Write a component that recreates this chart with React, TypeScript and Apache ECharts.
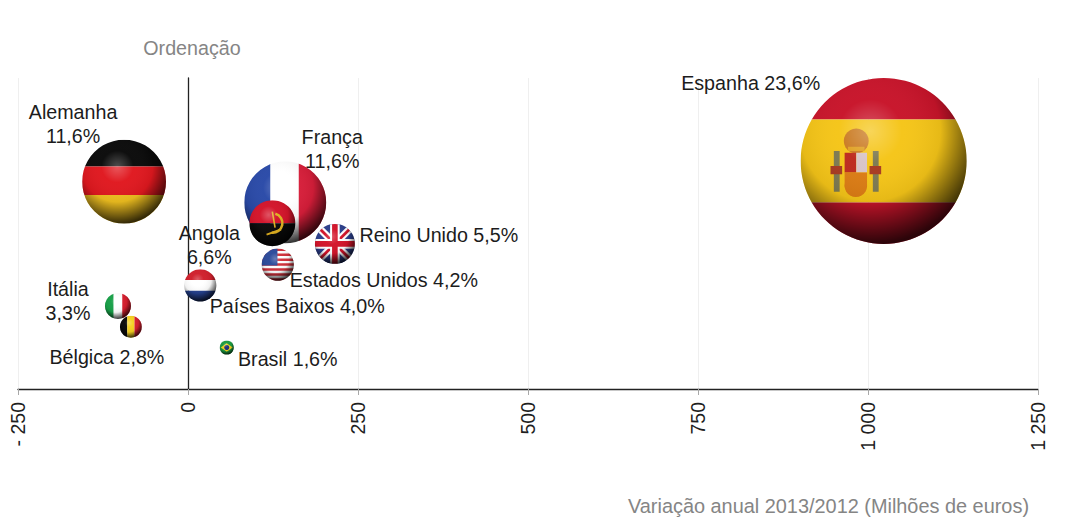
import React, { useEffect, useRef } from "react";
import * as echarts from "echarts";

const countries = ["Espanha", "Alemanha", "França", "Angola", "Reino Unido", "Estados Unidos", "Países Baixos", "Itália", "Bélgica", "Brasil"];
const flagCodes = ["es", "de", "fr", "ao", "gb", "us", "nl", "it", "be", "br"];
const variation = [1023, -94, 143, 124, 216, 132, 18, -103, -84, 57];
const ranks = [1, 2, 3, 4, 5, 6, 7, 8, 9, 10];
const shares = ["23,6%", "11,6%", "11,6%", "6,6%", "5,5%", "4,2%", "4,0%", "3,3%", "2,8%", "1,6%"];
const bubbleSize = [690, 176, 168, 53, 40, 26, 26, 17, 12, 5];
const xTicks = { min: -250, max: 1250, step: 250 };

const labelLayout: Record<string, { dx: number; dy: number; twoLines: boolean }> = {
  es: { dx: -133, dy: -78, twoLines: false },
  de: { dx: -51, dy: -58, twoLines: true },
  fr: { dx: 47, dy: -53, twoLines: true },
  ao: { dx: -63, dy: 22, twoLines: true },
  gb: { dx: 104, dy: -9, twoLines: false },
  us: { dx: 106, dy: 15, twoLines: false },
  nl: { dx: 97, dy: 21, twoLines: false },
  it: { dx: -50, dy: -5, twoLines: true },
  be: { dx: -24, dy: 30, twoLines: false },
  br: { dx: 61, dy: 11, twoLines: false },
};

const R = "#d3142a";
const FONT = "'Liberation Sans', Arial, sans-serif";
const flagChildren = (code: string, cx: number, cy: number, r: number) => {
  const box = (x0: number, y0: number, x1: number, y1: number, fill: string) => ({
    type: "rect",
    shape: { x: cx + x0 * r, y: cy + y0 * r, width: (x1 - x0) * r, height: (y1 - y0) * r },
    style: { fill },
  });
  const bar = (x0: number, y0: number, x1: number, y1: number, stroke: string, w: number) => ({
    type: "line",
    shape: { x1: cx + x0 * r, y1: cy + y0 * r, x2: cx + x1 * r, y2: cy + y1 * r },
    style: { stroke, lineWidth: w * r, fill: "none" },
  });
  const dot = (x: number, y: number, rad: number, fill: string) => ({
    type: "circle",
    shape: { cx: cx + x * r, cy: cy + y * r, r: rad * r },
    style: { fill },
  });
  switch (code) {
    case "es":
      return [
        box(-1, -1, 1, -0.5, "#c8142a"),
        box(-1, -0.5, 1, 0.5, "#f5c518"),
        box(-1, 0.5, 1, 1, "#c8142a"),
        box(-0.6, -0.12, -0.53, 0.37, "#7d7a52"),
        box(-0.13, -0.12, -0.06, 0.37, "#7d7a52"),
        box(-0.64, 0.06, -0.5, 0.16, "#a83a20"),
        box(-0.17, 0.06, -0.03, 0.16, "#a83a20"),
        dot(-0.33, -0.24, 0.15, "#c9781e"),
        box(-0.43, -0.17, -0.23, -0.12, "#e0a020"),
        box(-0.47, -0.1, -0.33, 0.14, "#bd2a1e"),
        box(-0.33, -0.1, -0.2, 0.14, "#d8c4c8"),
        box(-0.47, 0.14, -0.2, 0.32, "#dc7c14"),
        dot(-0.335, 0.3, 0.135, "#dc7c14"),
      ];
    case "de":
      return [box(-1, -1, 1, -0.36, "#0a0a0a"), box(-1, -0.36, 1, 0.32, "#e0181f"), box(-1, 0.32, 1, 1, "#f0c020")];
    case "fr":
      return [box(-1, -1, -0.36, 1, "#2a4aa8"), box(-0.36, -1, 0.33, 1, "#ffffff"), box(0.33, -1, 1, 1, "#d81e3a")];
    case "ao":
      return [
        box(-1, -1, 1, 0, R),
        box(-1, 0, 1, 1, "#0a0a0a"),
        {
          type: "arc",
          shape: { cx: cx + 0.02 * r, cy: cy, r: 0.42 * r, startAngle: -1.3, endAngle: 1.7 },
          style: { stroke: "#e0b020", lineWidth: 0.11 * r, fill: "none" },
        },
        bar(-0.25, 0.5, 0.38, 0.28, "#e0b020", 0.09),
        bar(0.0, -0.5, 0.12, 0.2, "#e0b020", 0.07),
      ];
    case "gb":
      return [
        box(-1, -1, 1, 1, "#2c3f8c"),
        bar(-1, -1, 1, 1, "#ffffff", 0.36),
        bar(-1, 1, 1, -1, "#ffffff", 0.36),
        bar(-1, -1, 1, 1, R, 0.14),
        bar(-1, 1, 1, -1, R, 0.14),
        box(-0.24, -1, 0.24, 1, "#ffffff"),
        box(-1, -0.24, 1, 0.24, "#ffffff"),
        box(-0.14, -1, 0.14, 1, R),
        box(-1, -0.14, 1, 0.14, R),
      ];
    case "us":
      return [
        box(-1, -1, 1, 1, "#ffffff"),
        ...[0, 2, 4, 6, 8, 10, 12].map((i) => box(-1, -1 + (i * 2) / 13, 1, -1 + ((i + 1) * 2) / 13, "#d0303a")),
        box(-1, -1, -0.02, 0.05, "#2c4a9a"),
      ];
    case "nl":
      return [box(-1, -1, 1, -0.33, "#d0202c"), box(-1, -0.33, 1, 0.33, "#ffffff"), box(-1, 0.33, 1, 1, "#24408e")];
    case "it":
      return [box(-1, -1, -0.33, 1, "#18a048"), box(-0.33, -1, 0.33, 1, "#ffffff"), box(0.33, -1, 1, 1, "#d81e2e")];
    case "be":
      return [box(-1, -1, -0.33, 1, "#0a0a0a"), box(-0.33, -1, 0.33, 1, "#f5d020"), box(0.33, -1, 1, 1, "#d81e2e")];
    default:
      return [
        box(-1, -1, 1, 1, "#1a9a40"),
        {
          type: "polygon",
          shape: { points: [[cx - 0.85 * r, cy], [cx, cy - 0.6 * r], [cx + 0.85 * r, cy], [cx, cy + 0.6 * r]] },
          style: { fill: "#f0d020" },
        },
        { type: "circle", shape: { cx, cy, r: 0.36 * r }, style: { fill: "#20307a" } },
      ];
  }
};

const sphereShade = {
  type: "radial",
  x: 0.42,
  y: 0.32,
  r: 0.68,
  colorStops: [
    { offset: 0, color: "rgba(255,255,255,0.28)" },
    { offset: 0.28, color: "rgba(255,255,255,0.02)" },
    { offset: 0.62, color: "rgba(0,0,0,0.06)" },
    { offset: 1, color: "rgba(0,0,0,0.78)" },
  ],
};

const bubbleData = countries.map((_, i) => [variation[i], ranks[i], bubbleSize[i], i]);

export default function App() {
  const ref = useRef<HTMLDivElement>(null);
  useEffect(() => {
    document.body.style.margin = "0";
    const chart = echarts.init(ref.current!, undefined, { renderer: "svg" });
    chart.setOption({
      animation: false,
      backgroundColor: "#ffffff",
      textStyle: { fontFamily: FONT },
      grid: { left: 18, right: 31, top: 78, bottom: 128, containLabel: false },
      xAxis: {
        type: "value",
        min: xTicks.min,
        max: xTicks.max,
        interval: xTicks.step,
        axisLine: { show: true, onZero: false, lineStyle: { color: "#222222", width: 1.3 } },
        axisTick: { show: true, length: 6, lineStyle: { color: "#a8a8a8" } },
        splitLine: { show: true, lineStyle: { color: "#efefef", width: 1 } },
        axisLabel: {
          rotate: 90,
          margin: 13,
          fontSize: 19.5,
          color: "#1f1f1f",
          fontFamily: FONT,
          formatter: (v: number) => {
            const a = Math.abs(v);
            const s = a >= 1000 ? `${Math.floor(a / 1000)} ${String(a % 1000).padStart(3, "0")}` : String(a);
            return v < 0 ? `- ${s}` : s;
          },
        },
      },
      yAxis: {
        type: "value",
        inverse: true,
        min: -3,
        max: 12,
        axisLine: { show: true, onZero: true, lineStyle: { color: "#222222", width: 1.3 } },
        axisTick: { show: false },
        axisLabel: { show: false },
        splitLine: { show: false },
        name: "Ordenação",
        nameLocation: "start",
        nameGap: 20,
        nameTextStyle: { color: "#858585", fontSize: 19.7, fontFamily: FONT, padding: [0, 0, 0, 8] },
      },
      graphic: [
        {
          type: "text",
          right: 40,
          top: 496,
          style: {
            text: "Variação anual 2013/2012 (Milhões de euros)",
            fill: "#858585",
            font: `19.9px ${FONT}`,
          },
        },
      ],
      series: [
        {
          type: "custom",
          clip: false,
          coordinateSystem: "cartesian2d",
          data: bubbleData,
          z: 3,
          renderItem: (_p: any, api: any) => {
            const [cx, cy] = api.coord([api.value(0), api.value(1)]);
            const r = Math.sqrt(api.value(2)) * 3.16;
            const code = flagCodes[api.value(3)];
            return {
              type: "group",
              children: [
                {
                  type: "group",
                  clipPath: { type: "circle", shape: { cx, cy, r } },
                  children: flagChildren(code, cx, cy, r),
                },
                { type: "circle", shape: { cx, cy, r }, style: { fill: sphereShade } },
              ],
            };
          },
        },
        {
          type: "custom",
          clip: false,
          coordinateSystem: "cartesian2d",
          data: bubbleData,
          z: 5,
          renderItem: (_p: any, api: any) => {
            const [cx, cy] = api.coord([api.value(0), api.value(1)]);
            const i = api.value(3);
            const l = labelLayout[flagCodes[i]];
            return {
              type: "text",
              x: cx + l.dx,
              y: cy + l.dy,
              style: {
                text: countries[i] + (l.twoLines ? "\n" : " ") + shares[i],
                textAlign: "center",
                textVerticalAlign: "middle",
                lineHeight: 24,
                fill: "#1c1c1c",
                font: `19.7px ${FONT}`,
              },
            };
          },
        },
      ],
    });
    return () => chart.dispose();
  }, []);
  return <div ref={ref} style={{ width: 1069, height: 517 }} />;
}
